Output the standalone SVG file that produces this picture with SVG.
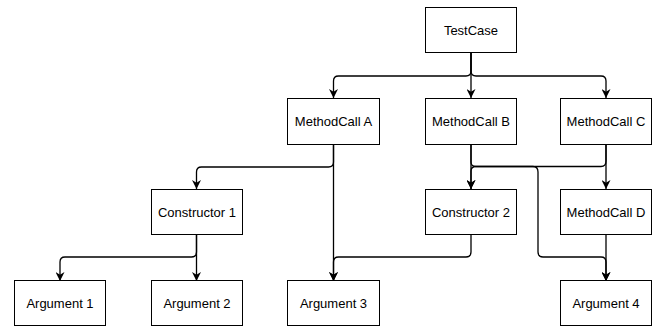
<svg xmlns="http://www.w3.org/2000/svg" width="657" height="328" viewBox="0 0 657 328">
<style>
.box{fill:#fff;stroke:#000;stroke-width:1}
.lbl{font-family:"Liberation Sans",Arial,sans-serif;font-size:13px;fill:#000;text-anchor:middle;dominant-baseline:central}
.e{fill:none;stroke:#000;stroke-width:1.3;marker-end:url(#arr)}
</style>
<defs>
<marker id="arr" viewBox="0 0 10 10" refX="10" refY="5" markerWidth="9" markerHeight="9" markerUnits="userSpaceOnUse" orient="auto">
<path d="M0,0 L10,5 L0,10 L3,5 Z" fill="#000"/>
</marker>
</defs>
<rect width="657" height="328" fill="#fff"/>
<g id="connectors">
<path class="e" d="M471,53 V71 Q471,76 466,76 H338.5 Q333.5,76 333.5,81 V98"/>
<path class="e" d="M471,53 V98"/>
<path class="e" d="M471,53 V71 Q471,76 476,76 H601 Q606,76 606,81 V98"/>
<path class="e" d="M333.5,145 V162 Q333.5,167 328.5,167 H201.5 Q196.5,167 196.5,172 V189"/>
<path class="e" d="M333.5,145 V281"/>
<path class="e" d="M196.5,235 V252 Q196.5,257 191.5,257 H65 Q60,257 60,262 V281"/>
<path class="e" d="M196.5,235 V281"/>
<path class="e" d="M471,235 V252 Q471,257 466,257 H338.5 Q333.5,257 333.5,262 V281"/>
<path class="e" d="M471,145 V189"/>
<path class="e" d="M606,145 V161 Q606,166.5 601,166.5 H476 Q471,166.5 471,171 V189"/>
<path class="e" d="M606,145 V189"/>
<path class="e" d="M471,145 V162 Q471,166.5 476,166.5 H533 Q538,166.5 538,172 V252 Q538,257 543,257 H601 Q606,257 606,262 V281"/>
<path class="e" d="M606,235 V281"/>
</g>
<g id="testcase"><rect class="box" x="425.5" y="7.5" width="91" height="45"/><text class="lbl" x="471" y="30">TestCase</text></g>
<g id="methodcall-a"><rect class="box" x="287.5" y="98.5" width="92" height="46"/><text class="lbl" x="333.5" y="121.5">MethodCall A</text></g>
<g id="methodcall-b"><rect class="box" x="425.5" y="98.5" width="91" height="46"/><text class="lbl" x="471" y="121.5">MethodCall B</text></g>
<g id="methodcall-c"><rect class="box" x="560.5" y="98.5" width="91" height="46"/><text class="lbl" x="606" y="121.5">MethodCall C</text></g>
<g id="constructor-1"><rect class="box" x="151.5" y="189.5" width="91" height="45"/><text class="lbl" x="197" y="212">Constructor 1</text></g>
<g id="constructor-2"><rect class="box" x="425.5" y="189.5" width="91" height="45"/><text class="lbl" x="471" y="212">Constructor 2</text></g>
<g id="methodcall-d"><rect class="box" x="560.5" y="189.5" width="91" height="45"/><text class="lbl" x="606" y="212">MethodCall D</text></g>
<g id="argument-1"><rect class="box" x="14.5" y="280.5" width="91" height="45"/><text class="lbl" x="60" y="303">Argument 1</text></g>
<g id="argument-2"><rect class="box" x="151.5" y="280.5" width="91" height="45"/><text class="lbl" x="197" y="303">Argument 2</text></g>
<g id="argument-3"><rect class="box" x="287.5" y="280.5" width="92" height="45"/><text class="lbl" x="333.5" y="303">Argument 3</text></g>
<g id="argument-4"><rect class="box" x="560.5" y="280.5" width="91" height="45"/><text class="lbl" x="606" y="303">Argument 4</text></g>
</svg>
